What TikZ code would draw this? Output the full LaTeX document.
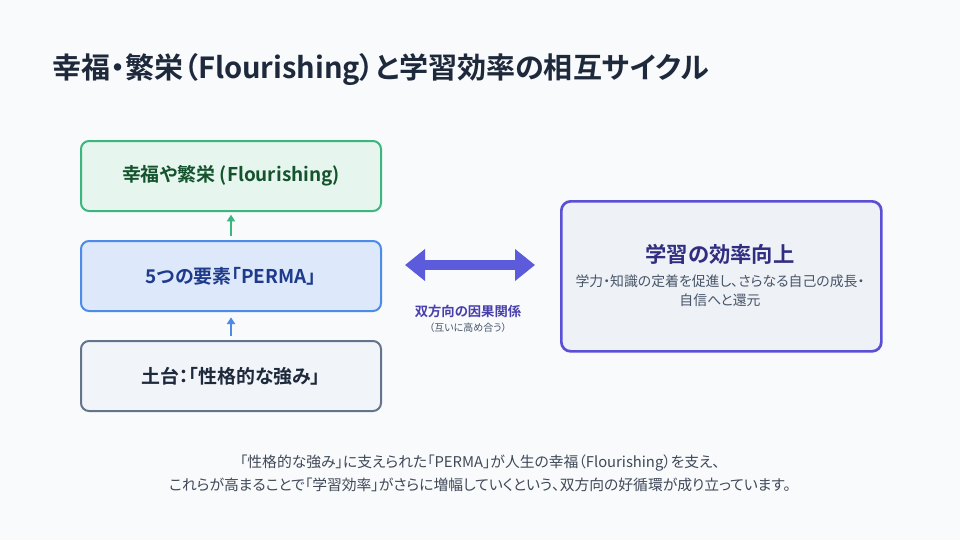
\documentclass[tikz,border=0pt]{standalone}
\usepackage{fontspec}
\setmainfont{Noto Sans CJK JP}[BoldFont=* Bold,RawFeature=+palt]
\usetikzlibrary{arrows.meta}
\definecolor{bg}{HTML}{F8FAFC}
\definecolor{ink}{HTML}{1E293B}
\definecolor{gfill}{HTML}{E6F6EE}\definecolor{gline}{HTML}{3DB57E}\definecolor{gtext}{HTML}{14532D}
\definecolor{bfill}{HTML}{DDE8FB}\definecolor{bline}{HTML}{4D8BEA}\definecolor{btext}{HTML}{1E3A8A}
\definecolor{sfill}{HTML}{F1F4F8}\definecolor{sline}{HTML}{64748B}
\definecolor{pfill}{HTML}{EEF1F5}\definecolor{pline}{HTML}{5B4FD6}\definecolor{ptext}{HTML}{312E81}
\definecolor{parrow}{HTML}{5B5BDB}\definecolor{gray}{HTML}{475569}
\begin{document}
\begin{tikzpicture}[x=0.75pt,y=-0.75pt,
 box/.style={draw,line width=1.5pt,rounded corners=6pt,minimum width=225pt,minimum height=52.5pt,anchor=north west,font=\bfseries\fontsize{14.2}{16}\selectfont},
 up/.style={-{Triangle[length=5pt,width=6pt]},line width=2pt}]
\fill[bg] (0,0) rectangle (960,540);
\node[anchor=west,text=ink,font=\bfseries\fontsize{21.8}{26}\selectfont] (title) at (48,70) {幸福・繁栄（Flourishing）と学習効率の相互サイクル};
\node[box,fill=gfill,draw=gline,text=gtext] (top) at (80,140) {幸福や繁栄 (Flourishing)};
\node[box,fill=bfill,draw=bline,text=btext] (mid) at (80,240) {5つの要素「PERMA」};
\node[box,fill=sfill,draw=sline,text=ink] (bot) at (80,340) {土台：「性格的な強み」};
\draw[up,gline] ([yshift=3pt]mid.north) -- ([yshift=-2pt]top.south);
\draw[up,bline] ([yshift=3pt]bot.north) -- ([yshift=-4pt]mid.south);
\node[draw=pline,fill=pfill,line width=2pt,rounded corners=7pt,minimum width=240pt,minimum height=112.5pt,anchor=north west] (eff) at (560,200) {};
\node[text=ptext,font=\bfseries\fontsize{16}{19}\selectfont] (efft) at (720,254) {学習の効率向上};
\node[text=gray,align=center,font=\fontsize{10.4}{14.5}\selectfont] (effd) at (720,291) {学力・知識の定着を促進し、さらなる自己の成長・\\自信へと還元};
\coordinate (la) at (405,265); \coordinate (ra) at (535,265);
\draw[parrow,line width=7pt,{Triangle[length=15pt,width=23pt]}-{Triangle[length=15pt,width=23pt]}] (la) -- (ra);
\node[text=pline!80!black,font=\bfseries\fontsize{10}{12}\selectfont] (cl) at (468,311) {双方向の因果関係};
\node[text=gray,font=\fontsize{7.5}{9}\selectfont] (cl2) at (468,328) {（互いに高め合う）};
\node[text=ink!85,align=center,font=\fontsize{11.1}{17.5}\selectfont] (foot) at (480,473) {「性格的な強み」に支えられた「PERMA」が人生の幸福（Flourishing）を支え、\\これらが高まることで「学習効率」がさらに増幅していくという、双方向の好循環が成り立っています。};
\end{tikzpicture}
\end{document}
